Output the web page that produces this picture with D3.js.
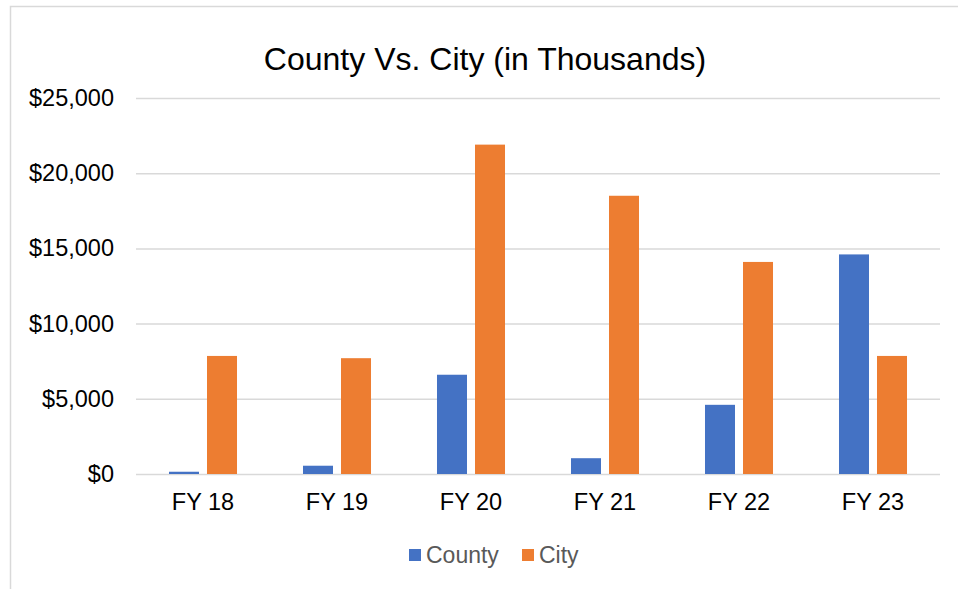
<!DOCTYPE html>
<html>
<head>
<meta charset="utf-8">
<script src="https://cdn.jsdelivr.net/npm/d3@7"></script>
<style>
  body { margin: 0; background: #fff; }
  svg { display: block; font-family: Arial, "Liberation Sans", sans-serif; }
</style>
</head>
<body>
<svg id="chart"></svg>
<script>
var categories = ["FY 18", "FY 19", "FY 20", "FY 21", "FY 22", "FY 23"];
var seriesNames = ["County", "City"];
var countyValues = [150, 550, 6600, 1050, 4600, 14600];
var cityValues = [7850, 7700, 21900, 18500, 14100, 7850];
var yTicks = [0, 5000, 10000, 15000, 20000, 25000];
var colors = {County: "#4472c4", City: "#ed7d31"};

var width = 958, height = 589;
var svg = d3.select("#chart").attr("width", width).attr("height", height);

// chart border (only left and top show in the frame)
svg.append("rect")
    .attr("x", 10.5).attr("y", 6.5)
    .attr("width", 1000).attr("height", 700)
    .attr("fill", "none")
    .attr("stroke", "#d9d9d9")
    .attr("stroke-width", 1.5);

var plot = {left: 136, right: 940, top: 98, bottom: 474};

var x0 = d3.scaleBand()
    .domain(categories)
    .range([plot.left, plot.right])
    .paddingInner(0.4925)
    .paddingOuter(0.4925 / 2);

var x1 = d3.scaleBand()
    .domain(seriesNames)
    .range([0, x0.bandwidth()])
    .paddingInner(0.2105);

var y = d3.scaleLinear()
    .domain([0, 25000])
    .range([plot.bottom, plot.top]);

// gridlines + y labels
var yAxis = d3.axisLeft(y)
    .tickValues(yTicks)
    .tickSize(-(plot.right - plot.left))
    .tickPadding(22)
    .tickFormat(d => "$" + d3.format(",")(d));

var gy = svg.append("g")
    .attr("transform", "translate(" + plot.left + ",0)")
    .call(yAxis);
gy.select(".domain").remove();
gy.selectAll(".tick line").attr("stroke", "#d9d9d9").attr("stroke-width", 1.5);
gy.selectAll(".tick text")
    .attr("font-size", 23.5)
    .attr("fill", "#000");

// bars
var rows = categories.map((c, i) => ({cat: c, County: countyValues[i], City: cityValues[i]}));

svg.append("g").selectAll("g")
    .data(rows)
    .join("g")
    .attr("transform", d => "translate(" + x0(d.cat) + ",0)")
    .selectAll("rect")
    .data(d => seriesNames.map(k => ({key: k, value: d[k]})))
    .join("rect")
    .attr("x", d => x1(d.key))
    .attr("width", x1.bandwidth())
    .attr("y", d => y(d.value))
    .attr("height", d => y(0) - y(d.value))
    .attr("fill", d => colors[d.key]);

// x labels
var xAxis = d3.axisBottom(x0).tickSize(0).tickPadding(19);
var gx = svg.append("g")
    .attr("transform", "translate(0," + plot.bottom + ")")
    .call(xAxis);
gx.select(".domain").remove();
gx.selectAll(".tick text")
    .attr("font-size", 23.5)
    .attr("fill", "#000");

// title
svg.append("text")
    .attr("x", 485)
    .attr("y", 70)
    .attr("text-anchor", "middle")
    .attr("font-size", 32)
    .attr("fill", "#000")
    .text("County Vs. City (in Thousands)");

// legend
var legendPos = [409, 522];
var legend = svg.append("g").selectAll("g")
    .data(seriesNames)
    .join("g")
    .attr("transform", (d, i) => "translate(" + legendPos[i] + ",549)");
legend.append("rect")
    .attr("width", 12).attr("height", 12)
    .attr("fill", d => colors[d]);
legend.append("text")
    .attr("x", 17)
    .attr("y", 14)
    .attr("font-size", 23)
    .attr("fill", "#595959")
    .text(d => d);
</script>
</body>
</html>
